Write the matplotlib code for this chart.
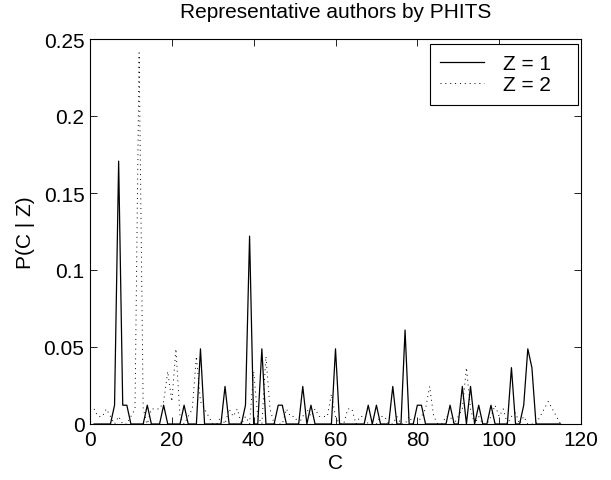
import matplotlib
matplotlib.use("Agg")
import matplotlib.pyplot as plt

plt.rcParams['font.family'] = ['Liberation Sans', 'DejaVu Sans']

# C = 1..115
c_vals = list(range(1, 116))

# P(C | Z=1)
z1 = [0, 0, 0, 0, 0, 0.0122, 0.1707, 0.0122, 0.0122, 0,
      0, 0, 0, 0.0122, 0, 0, 0, 0.0122, 0, 0,
      0, 0, 0.0122, 0, 0, 0, 0.0488, 0, 0, 0,
      0, 0, 0.0244, 0, 0, 0, 0, 0.0122, 0.1220, 0,
      0, 0.0488, 0, 0, 0, 0.0122, 0.0122, 0, 0, 0,
      0, 0.0244, 0, 0.0122, 0, 0, 0, 0, 0, 0.0488,
      0, 0, 0, 0, 0, 0, 0, 0.0122, 0, 0.0122,
      0, 0, 0, 0.0244, 0, 0, 0.0610, 0, 0, 0.0122,
      0.0122, 0, 0, 0, 0, 0, 0, 0.0122, 0, 0,
      0.0244, 0, 0.0244, 0, 0.0122, 0, 0, 0.0122, 0, 0,
      0, 0, 0.0366, 0, 0, 0.0122, 0.0488, 0.0366, 0, 0,
      0, 0, 0, 0, 0]

# P(C | Z=2)
z2 = [0.0098, 0.0049, 0.0049, 0.0098, 0.0049, 0, 0.0049, 0, 0, 0.0049,
      0.0098, 0.2410, 0.0098, 0, 0.0098, 0.0098, 0.0098, 0.0146, 0.0341, 0.0146,
      0.0488, 0.0049, 0, 0.0049, 0.0098, 0.0439, 0.0146, 0.0098, 0.0049, 0,
      0, 0.0049, 0, 0.0098, 0.0049, 0.0098, 0, 0.0049, 0, 0.0341,
      0.0049, 0, 0.0439, 0.0098, 0, 0, 0, 0.0098, 0.0049, 0.0049,
      0, 0.0049, 0.0098, 0.0049, 0.0098, 0.0049, 0.0049, 0.0049, 0.0195, 0.0049,
      0, 0, 0.0098, 0.0098, 0, 0.0049, 0.0049, 0, 0, 0,
      0.0049, 0.0049, 0, 0, 0.0049, 0, 0, 0.0049, 0, 0,
      0.0049, 0.0098, 0.0244, 0.0049, 0, 0, 0.0049, 0.0049, 0, 0.0049,
      0.0098, 0.0366, 0.0098, 0, 0.0049, 0, 0, 0.0049, 0.0122, 0.0049,
      0.0098, 0, 0.0049, 0.0073, 0, 0.0049, 0, 0, 0, 0.0049,
      0.0098, 0.0146, 0.0098, 0.0049, 0]

x_ticks = [0, 20, 40, 60, 80, 100, 120]
y_ticks = [0, 0.05, 0.1, 0.15, 0.2, 0.25]
y_labels = ['0', '0.05', '0.1', '0.15', '0.2', '0.25']

fs = 15

fig = plt.figure(figsize=(6.11, 4.81), dpi=100)
# axes box: x 90..581 px, y 40..425 px
ax = fig.add_axes([90 / 611, 1 - 425 / 481, 491 / 611, 385 / 481])

ax.plot(c_vals, z1, color='black', lw=0.9, linestyle='-', label='Z = 1')
ax.plot(c_vals, z2, color='black', lw=0.7, linestyle=(0, (1, 4)), label='Z = 2')

ax.set_xlim(0, 120)
ax.set_ylim(0, 0.25)
ax.set_xticks(x_ticks)
ax.set_yticks(y_ticks)
ax.set_yticklabels(y_labels)
ax.tick_params(direction='in', top=True, right=True, labelsize=fs, length=5,
               width=0.6, pad=4)
for s in ax.spines.values():
    s.set_linewidth(0.8)

ax.set_xlabel('C', fontsize=fs, labelpad=3)
ax.set_ylabel('P(C | Z)', fontsize=fs, labelpad=6)
ax.set_title('Representative authors by PHITS', fontsize=fs, pad=16)

# legend box roughly 430..578 px wide, top just under the axes top
leg = ax.legend(loc='upper left', bbox_to_anchor=(0.6925, 0.80, 0.301, 0.187),
                mode='expand', borderaxespad=0, fontsize=fs, fancybox=False,
                framealpha=1, edgecolor='black', handlelength=2.1,
                handletextpad=0.9, borderpad=0.5, labelspacing=0.08)
leg.get_frame().set_linewidth(0.8)

fig.savefig('out.png', dpi=100)
